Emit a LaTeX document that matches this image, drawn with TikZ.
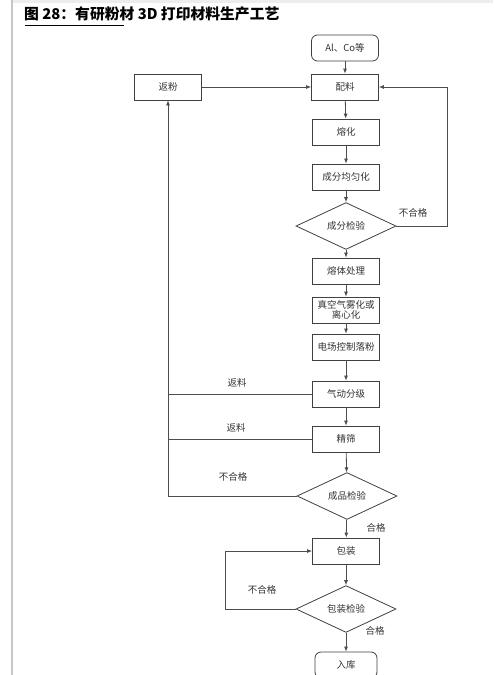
\documentclass[tikz,border=0pt]{standalone}
\usepackage{fontspec}
\setmainfont{Noto Sans CJK SC}
\usetikzlibrary{shapes.geometric,arrows.meta}
\begin{document}
\begin{tikzpicture}[x=1pt,y=-1pt,
  box/.style={draw=black!75, line width=0.8pt, minimum width=67pt, minimum height=26pt,
    inner sep=0pt, font=\fontsize{9.5}{11}\selectfont, text=black!80, align=center},
  rbox/.style={box, rounded corners=6pt},
  dia/.style={draw=black!75, line width=0.8pt, diamond, minimum width=100pt, minimum height=39pt,
    inner sep=0pt, font=\fontsize{9.5}{11}\selectfont, text=black!80},
  lab/.style={font=\fontsize{9.5}{11}\selectfont, text=black!80, inner sep=0pt},
  ln/.style={draw=black!70, line width=0.8pt},
  arr/.style={ln, -{Latex[length=5pt,width=4pt]}}]
\useasboundingbox (0,0) rectangle (493,675);
\clip (0,0) rectangle (493,675);
% page frame
\fill[black!7] (12,0) rectangle (493,3);
\draw[black!22, line width=1.2pt] (12,0) -- (12,675);
% title
\node[anchor=west, inner sep=0pt, font=\fontsize{14.8}{16}\selectfont\bfseries] (title) at (24,14) {图 28：有研粉材 3D 打印材料生产工艺};
\draw[black, line width=1pt] (25,25) -- (124,25);
% nodes
\node[rbox] (al) at (345,48) {Al、Co等};
\node[box] (pl) at (345,87) {配料};
\node[box] (ff) at (168,87) {返粉};
\node[box] (rh) at (346,132) {熔化};
\node[box] (jy) at (346,177) {成分均匀化};
\node[dia] (d1) at (346,226) {成分检验};
\node[box] (rt) at (346,271) {熔体处理};
\node[box, font=\fontsize{9.5}{10.5}\selectfont] (zk) at (346,310) {真空气雾化或\\离心化};
\node[box] (dc) at (346,347) {电场控制落粉};
\node[box] (qd) at (346,394) {气动分级};
\node[box] (js) at (346,439) {精筛};
\node[dia] (d2) at (347,496) {成品检验};
\node[box] (bz) at (346,551) {包装};
\node[dia] (d3) at (346,609) {包装检验};
\node[rbox, minimum width=62pt] (rk) at (346,665) {入库};
% connectors
\draw[arr] (al) -- (pl);
\draw[arr] (pl) -- (rh);
\draw[arr] (rh) -- (jy);
\draw[arr] (jy) -- (d1);
\draw[arr] (d1) -- (rt);
\draw[arr] (rt) -- (zk);
\draw[arr] (zk) -- (dc);
\draw[arr] (dc) -- (qd);
\draw[arr] (qd) -- (js);
\draw[arr] (js) -- (d2);
\draw[arr] (d2) -- (bz);
\draw[arr] (bz) -- (d3);
\draw[arr] (d3) -- (rk);
\draw[arr] (ff) -- (pl);
\draw[arr] (d1.east) -- ++(51,0) |- (pl.east);
\draw[arr] (d2.west) -| (ff.south);
\draw[ln] (qd.west) -- (ff.south |- qd.west);
\draw[ln] (js.west) -- (ff.south |- js.west);
\draw[arr] (d3.west) -- ++(-70,0) |- (bz.west);
% labels
\node[lab] (l1) at (413,213) {不合格};
\node[lab] (l2) at (237,383) {返料};
\node[lab] (l3) at (236,428) {返料};
\node[lab] (l4) at (233,477) {不合格};
\node[lab] (l5) at (376,528) {合格};
\node[lab] (l6) at (262,590) {不合格};
\node[lab] (l7) at (375,631) {合格};
\end{tikzpicture}
\end{document}
